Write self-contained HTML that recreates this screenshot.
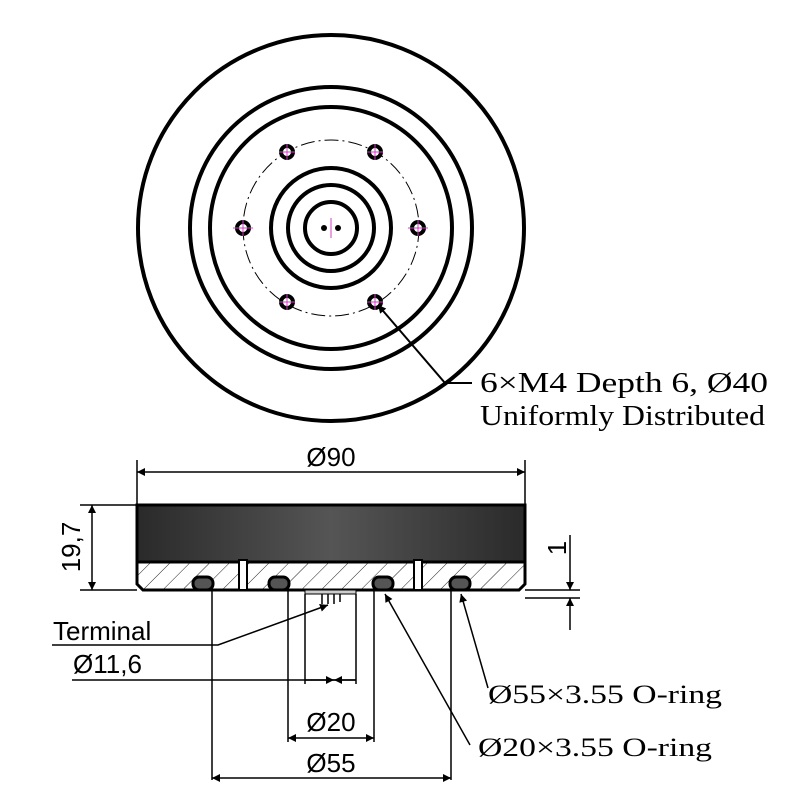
<!DOCTYPE html>
<html><head><style>body{margin:0;background:#fff}svg{display:block}</style></head>
<body>
<svg width="800" height="800" viewBox="0 0 800 800" xmlns="http://www.w3.org/2000/svg">
<defs>
<linearGradient id="g" x1="0" x2="1" y1="0" y2="0">
<stop offset="0" stop-color="#2a2a2a"/><stop offset="0.5" stop-color="#555"/><stop offset="1" stop-color="#2a2a2a"/>
</linearGradient>
<pattern id="h" width="14" height="14" patternUnits="userSpaceOnUse" patternTransform="rotate(45)">
<line x1="0" y1="0" x2="0" y2="14" stroke="#222" stroke-width="1"/>
</pattern>
<marker id="a" viewBox="0 0 10 10" refX="10" refY="5" markerWidth="14" markerHeight="8" orient="auto-start-reverse" markerUnits="userSpaceOnUse"><path d="M0,0 L10,5 L0,10z" fill="#000"/></marker>
</defs>
<g fill="none" stroke="#000">
<circle cx="331" cy="228" r="193" stroke-width="4"/>
<circle cx="331" cy="228" r="141" stroke-width="4"/>
<circle cx="331" cy="228" r="121" stroke-width="4"/>
<circle cx="331" cy="228" r="88" stroke-width="1" stroke-dasharray="14 4 2 4"/>
<circle cx="331" cy="228" r="60" stroke-width="4"/>
<circle cx="331" cy="228" r="43" stroke-width="4"/>
<circle cx="331" cy="228" r="26" stroke-width="4"/>
</g>
<g fill="#fff" stroke="#000" stroke-width="4">
<circle cx="287" cy="152" r="6"/><circle cx="375" cy="152" r="6"/>
<circle cx="243" cy="228" r="6"/><circle cx="418" cy="228" r="6"/>
<circle cx="287" cy="302" r="6"/><circle cx="375" cy="302" r="6"/>
</g>
<g stroke="#d040c0" stroke-width="1">
<path d="M279,152h16M287,144v16M367,152h16M375,144v16M233,228h20M243,220v16M408,228h20M418,220v16M279,302h16M287,294v16M367,302h16M375,294v16M331,218v20"/>
</g>
<circle cx="324" cy="228" r="3" fill="#000"/><circle cx="338" cy="228" r="3" fill="#000"/>
<path d="M445,383 L378,305" stroke="#000" stroke-width="2" marker-end="url(#a)"/>
<path d="M445,383 H472" stroke="#000" stroke-width="2"/>
<g font-family="Liberation Serif, serif" font-size="29" fill="#000">
<text x="480" y="392" textLength="288" lengthAdjust="spacingAndGlyphs">6×M4 Depth 6, Ø40</text>
<text x="480" y="425" textLength="285" lengthAdjust="spacingAndGlyphs">Uniformly Distributed</text>
<text x="488" y="703" font-size="26" textLength="234" lengthAdjust="spacingAndGlyphs">Ø55×3.55 O-ring</text>
<text x="478" y="756" font-size="26" textLength="234" lengthAdjust="spacingAndGlyphs">Ø20×3.55 O-ring</text>
</g>
<!-- side view -->
<rect x="137" y="505" width="388" height="57" fill="url(#g)" stroke="#000" stroke-width="3"/>
<path d="M137,562 V584 L143,590 H519 L525,584 V562 Z" fill="url(#h)" stroke="#000" stroke-width="3"/>
<g fill="#fff" stroke="#000" stroke-width="2">
<rect x="239" y="560" width="8" height="30"/><rect x="414" y="560" width="8" height="30"/>
</g>
<g fill="#555" stroke="#000" stroke-width="3">
<rect x="193" y="577" width="20" height="13" rx="6"/><rect x="269" y="577" width="20" height="13" rx="6"/>
<rect x="373" y="577" width="20" height="13" rx="6"/><rect x="450" y="577" width="20" height="13" rx="6"/>
</g>
<rect x="305" y="590" width="51" height="4" fill="#ccc" stroke="#000" stroke-width="1"/>
<path d="M322,594v10M328,594v10M334,594v10M340,594v8" stroke="#000" stroke-width="1.5"/>
<g stroke="#000" stroke-width="1.5" fill="none">
<path d="M137,505 V460 M525,505 V460"/>
<path d="M137,472 H525" marker-start="url(#a)" marker-end="url(#a)"/>
<path d="M80,505 H137 M80,590 H137"/>
<path d="M92,505 V590" marker-start="url(#a)" marker-end="url(#a)"/>
<path d="M525,590 H580 M525,598 H580"/>
<path d="M570,535 V590" marker-end="url(#a)"/><path d="M570,630 V598" marker-end="url(#a)"/>
<path d="M212,590 V780 M288,590 V742 M305,594 V684 M356,594 V684 M374,590 V742 M451,590 V780"/>
<path d="M212,778 H451" marker-start="url(#a)" marker-end="url(#a)"/>
<path d="M288,738 H374" marker-start="url(#a)" marker-end="url(#a)"/>
<path d="M72,680 H356"/>
<path d="M305,680 H334" marker-end="url(#a)"/><path d="M356,680 H334" marker-end="url(#a)"/>
<path d="M52,645 H218 L328,605" marker-end="url(#a)"/>
<path d="M488,688 L461,594" marker-end="url(#a)"/>
<path d="M470,745 L385,594" marker-end="url(#a)"/>
</g>
<g font-family="Liberation Sans, sans-serif" font-size="26" fill="#000">
<text x="331" y="466" text-anchor="middle">Ø90</text>
<text transform="translate(80,547) rotate(-90)" text-anchor="middle">19,7</text>
<text transform="translate(566,548) rotate(-90)" text-anchor="middle">1</text>
<text x="53" y="640">Terminal</text>
<text x="73" y="673">Ø11,6</text>
<text x="331" y="731" text-anchor="middle">Ø20</text>
<text x="331" y="772" text-anchor="middle">Ø55</text>
</g>
</svg>
</body></html>
